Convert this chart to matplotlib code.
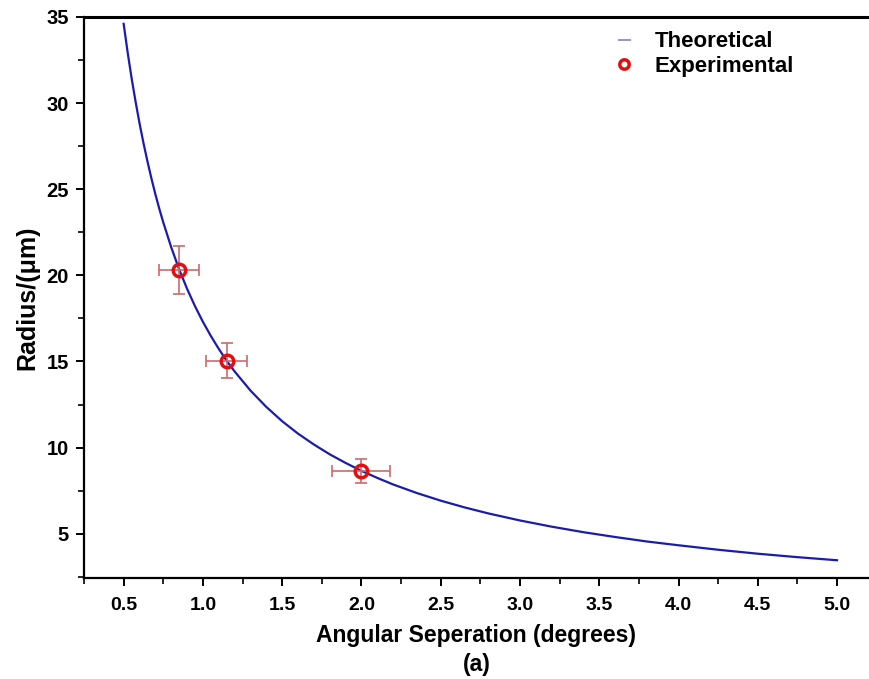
import numpy as np
import matplotlib.pyplot as plt
from matplotlib.ticker import MultipleLocator

# theoretical curve
theta_th = [0.5, 0.525, 0.55, 0.575, 0.6, 0.625, 0.65, 0.675, 0.7, 0.725, 0.75, 0.8, 0.85, 0.9,
            0.95, 1.0, 1.05, 1.1, 1.15, 1.2, 1.3, 1.4, 1.5, 1.6, 1.7, 1.8, 1.9, 2.0, 2.1, 2.2,
            2.35, 2.5, 2.65, 2.8, 3.0, 3.2, 3.4, 3.6, 3.8, 4.0, 4.25, 4.5, 4.75, 5.0]
radius_th = [34.6, 32.95, 31.45, 30.09, 28.83, 27.68, 26.62, 25.63, 24.71, 23.86, 23.07, 21.63,
             20.35, 19.22, 18.21, 17.3, 16.48, 15.73, 15.04, 14.42, 13.31, 12.36, 11.53, 10.81,
             10.18, 9.61, 9.11, 8.65, 8.24, 7.86, 7.36, 6.92, 6.53, 6.18, 5.77, 5.41, 5.09, 4.81,
             4.55, 4.33, 4.07, 3.84, 3.64, 3.46]

# experimental points
theta_exp = [0.85, 1.15, 2.0]
radius_exp = [20.3, 15.05, 8.65]
theta_err = [0.125, 0.13, 0.183]
radius_err = [1.4, 1.0, 0.7]

plt.rcParams['font.family'] = ['Liberation Sans', 'DejaVu Sans']
plt.rcParams['font.weight'] = 'bold'

fig = plt.figure(figsize=(8.69, 6.79), dpi=100)
ax = fig.add_axes([0.0967, 0.149, 0.903, 0.826])

ax.plot(theta_th, radius_th, color='#1c1cac', lw=1.6, label='Theoretical', zorder=2)
ax.errorbar(theta_exp, radius_exp, xerr=theta_err, yerr=radius_err, fmt='none',
            ecolor='#cd6a6a', elinewidth=1.2, capsize=4.5, capthick=1.2, zorder=3)
ax.plot(theta_exp, radius_exp, 'o', mfc='none', mec='#e01010', mew=2.5, ms=9,
        label='Experimental', zorder=4)

ax.set_xlim(0.25, 5.2)
ax.set_ylim(2.44, 35)
ax.xaxis.set_minor_locator(MultipleLocator(0.25))
ax.yaxis.set_minor_locator(MultipleLocator(2.5))
ax.set_xticks(np.arange(0.5, 5.01, 0.5))
ax.set_yticks([5, 10, 15, 20, 25, 30, 35])

ax.spines['right'].set_visible(False)
ax.spines['top'].set_linewidth(2.2)
ax.spines['left'].set_linewidth(1.6)
ax.spines['bottom'].set_linewidth(1.6)
ax.tick_params(which='major', direction='out', length=6, width=1.4)
ax.tick_params(which='minor', direction='out', length=4, width=1.2)
ax.tick_params(axis='y', labelsize=14.5, pad=5)
ax.tick_params(axis='x', labelsize=14, pad=8)
ax.tick_params(top=False, right=False)

ax.set_xlabel('Angular Seperation (degrees)\n(a)', fontsize=16.5, fontweight='bold', labelpad=7,
              linespacing=1.35)
ax.set_ylabel('Radius/(\u03bcm)', fontsize=18, fontweight='bold', labelpad=5)

leg = ax.legend(loc='upper right', bbox_to_anchor=(0.93, 1.01), frameon=False, fontsize=16,
                handlelength=0.5, handletextpad=1.1, labelspacing=0.15, markerscale=0.75)
leg.get_lines()[0].set_color('#9a9ab8')
leg.get_lines()[0].set_linewidth(1.5)

fig.savefig('out.png', dpi=100)
